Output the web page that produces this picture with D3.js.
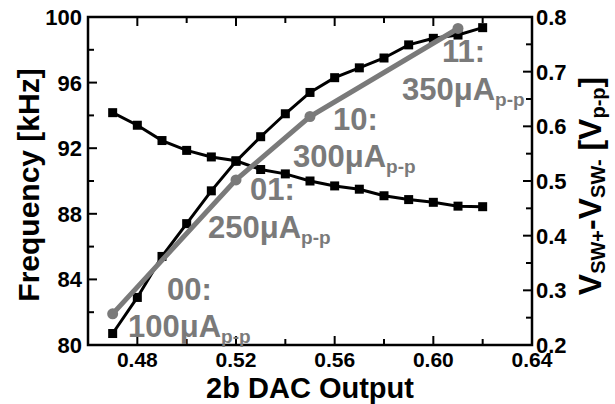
<!DOCTYPE html>
<html>
<head>
<meta charset="utf-8">
<script src="https://cdn.jsdelivr.net/npm/d3@7"></script>
<style>
  body { margin: 0; background: #fff; }
  text { font-family: "Liberation Sans", Arial, sans-serif; font-weight: bold; }
</style>
</head>
<body>
<div id="chart"></div>
<script>
// DAC output sweep (x)
const dacOut = [0.47, 0.48, 0.49, 0.50, 0.51, 0.52, 0.53, 0.54, 0.55, 0.56, 0.57, 0.58, 0.59, 0.60, 0.61, 0.62];
// frequency [kHz], left axis
const freq = [80.7, 82.9, 85.4, 87.4, 89.4, 91.2, 92.7, 94.1, 95.4, 96.3, 96.9, 97.5, 98.3, 98.7, 98.9, 99.35];
// swing [Vp-p], right axis
const swing = [0.625, 0.602, 0.574, 0.556, 0.544, 0.537, 0.521, 0.513, 0.500, 0.491, 0.485, 0.473, 0.466, 0.461, 0.454, 0.453];
// gray curve: swing per 2b code
const codeX = [0.47, 0.52, 0.55, 0.61];
const codeV = [0.257, 0.502, 0.618, 0.779];
const codeLabels = [
  { code: "00:", cur: "100\u03bcA" },
  { code: "01:", cur: "250\u03bcA" },
  { code: "10:", cur: "300\u03bcA" },
  { code: "11:", cur: "350\u03bcA" }
];
// label anchor points, left/baseline of the two lines
const labelPos = [
  [167, 300, 128, 337],
  [250, 200, 208, 238],
  [333, 130, 293, 167],
  [442, 62, 402, 100]
];
const xTicks = [0.48, 0.52, 0.56, 0.60, 0.64];
const yTicks = [80, 84, 88, 92, 96, 100];
const y2Ticks = [0.2, 0.3, 0.4, 0.5, 0.6, 0.7, 0.8];

const W = 615, H = 404;
const L = 88, R = 532, T = 17, B = 345;
const gray = "#7a7a7a";

const svg = d3.select('#chart').append('svg')
    .attr('width', W)
    .attr('height', H);

const x = d3.scaleLinear().domain([0.46, 0.64]).range([L, R]);
const y = d3.scaleLinear().domain([80, 100]).range([B, T]);
const y2 = d3.scaleLinear().domain([0.2, 0.8]).range([B, T]);

// ticks (all pointing inward)
const tickG = svg.append('g').attr('stroke', '#000').attr('stroke-width', 2);
d3.range(0.48, 0.63, 0.02).forEach(v => {
    const major = Math.abs(Math.round(v * 100) % 4) === 0;
    const len = major ? 9 : 6;
    tickG.append('line').attr('x1', x(v)).attr('x2', x(v)).attr('y1', B).attr('y2', B - len);
    tickG.append('line').attr('x1', x(v)).attr('x2', x(v)).attr('y1', T).attr('y2', T + len);
});
d3.range(82, 100, 2).forEach(v => {
    const len = v % 4 === 0 ? 9 : 6;
    tickG.append('line').attr('x1', L).attr('x2', L + len).attr('y1', y(v)).attr('y2', y(v));
});
d3.range(0.25, 0.8, 0.05).forEach(v => {
    const major = Math.round(v * 100) % 10 === 0;
    const len = major ? 9 : 6;
    tickG.append('line').attr('x1', R).attr('x2', R - len).attr('y1', y2(v)).attr('y2', y2(v));
});

// frame
svg.append('rect')
    .attr('x', L).attr('y', T)
    .attr('width', R - L).attr('height', B - T)
    .attr('fill', 'none')
    .attr('stroke', '#000')
    .attr('stroke-width', 2.5);

// tick labels
svg.append('g').selectAll('text').data(xTicks).enter()
    .append('text')
    .attr('x', d => x(d))
    .attr('y', 367)
    .attr('text-anchor', 'middle')
    .attr('font-size', 21)
    .text(d => d3.format('.2f')(d));
svg.append('g').selectAll('text').data(yTicks).enter()
    .append('text')
    .attr('x', 82)
    .attr('y', d => y(d) + 8)
    .attr('text-anchor', 'end')
    .attr('font-size', 22)
    .text(d => d);
svg.append('g').selectAll('text').data(y2Ticks).enter()
    .append('text')
    .attr('x', 536)
    .attr('y', d => y2(d) + 8)
    .attr('font-size', 22)
    .text(d => d3.format('.1f')(d));

// axis titles
svg.append('text')
    .attr('x', 310).attr('y', 398)
    .attr('text-anchor', 'middle')
    .attr('font-size', 29)
    .text('2b DAC Output');
svg.append('text')
    .attr('transform', 'translate(39,185) rotate(-90)')
    .attr('text-anchor', 'middle')
    .attr('font-size', 30)
    .text('Frequency [kHz]');
const rt = svg.append('text')
    .attr('transform', 'translate(601,186) rotate(-90)')
    .attr('text-anchor', 'middle')
    .attr('font-size', 32);
rt.append('tspan').text('V');
rt.append('tspan').attr('font-size', 20).attr('dy', 4).text('SW+');
rt.append('tspan').attr('dy', -4).text('-V');
rt.append('tspan').attr('font-size', 20).attr('dy', 4).text('SW-');
rt.append('tspan').attr('dy', -4).text(' [V');
rt.append('tspan').attr('font-size', 20).attr('dy', 4).text('p-p');
rt.append('tspan').attr('dy', -4).text(']');

// black series
const lineF = d3.line().x((d, i) => x(dacOut[i])).y(d => y(d));
const lineS = d3.line().x((d, i) => x(dacOut[i])).y(d => y2(d));
svg.append('path').datum(swing)
    .attr('d', lineS).attr('fill', 'none').attr('stroke', '#000').attr('stroke-width', 3);
svg.append('g').selectAll('rect').data(swing).enter()
    .append('rect')
    .attr('x', (d, i) => x(dacOut[i]) - 4.5)
    .attr('y', d => y2(d) - 4.5)
    .attr('width', 9).attr('height', 9).attr('fill', '#000');
svg.append('path').datum(freq)
    .attr('d', lineF).attr('fill', 'none').attr('stroke', '#000').attr('stroke-width', 3);
svg.append('g').selectAll('rect').data(freq).enter()
    .append('rect')
    .attr('x', (d, i) => x(dacOut[i]) - 4.5)
    .attr('y', d => y(d) - 4.5)
    .attr('width', 9).attr('height', 9).attr('fill', '#000');

// gray series
const lineC = d3.line().x((d, i) => x(codeX[i])).y(d => y2(d));
svg.append('path').datum(codeV)
    .attr('d', lineC).attr('fill', 'none').attr('stroke', gray).attr('stroke-width', 5);
svg.append('g').selectAll('circle').data(codeV).enter()
    .append('circle')
    .attr('cx', (d, i) => x(codeX[i]))
    .attr('cy', d => y2(d))
    .attr('r', 5.5)
    .attr('fill', gray);

// code labels
codeLabels.forEach((lab, i) => {
    const p = labelPos[i];
    svg.append('text')
        .attr('x', p[0]).attr('y', p[1])
        .attr('font-size', 31).attr('fill', gray)
        .text(lab.code);
    const t = svg.append('text')
        .attr('x', p[2]).attr('y', p[3])
        .attr('font-size', 31).attr('fill', gray);
    t.append('tspan').text(lab.cur);
    t.append('tspan').attr('font-size', 19).attr('dy', 6).text('p-p');
});
</script>
</body>
</html>
